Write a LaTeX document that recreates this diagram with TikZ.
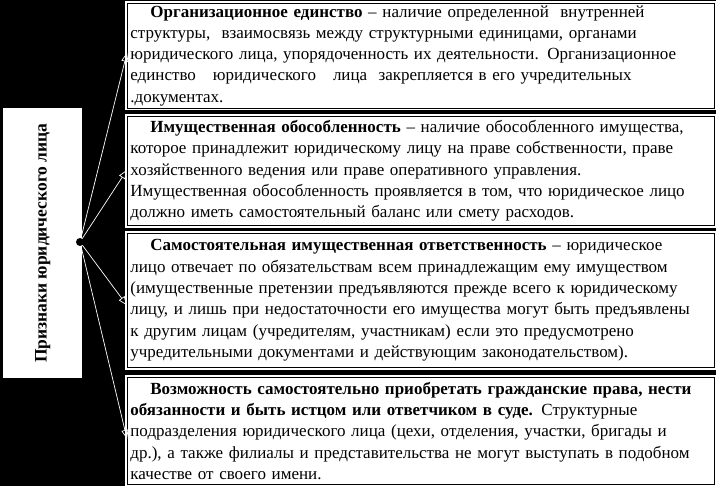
\documentclass[tikz,border=0pt]{standalone}
\usepackage{fontspec}
\setmainfont{Liberation Serif}
\usetikzlibrary{arrows.meta}
\tikzset{
  framebox/.style={draw=black, line width=0.8pt, fill=white,
    preaction={draw=white, line width=4.5pt},
    inner xsep=3pt, inner ysep=2pt, align=left, anchor=north west,
    font=\fontsize{17}{21.3}\selectfont},
  plainbox/.style={fill=white, inner sep=0pt, anchor=north west},
  link/.style={draw=white, line width=0.7pt,
    -{Triangle[open, length=9pt, width=7pt, line width=0.7pt]}},
}
\begin{document}
\begin{tikzpicture}[x=1pt,y=-1pt]
\useasboundingbox (0,0) rectangle (716,486);
\fill[black] (0,0) rectangle (716,486);
\node[plainbox, minimum width=79pt, minimum height=270pt] (main) at (3,108) {};
\node[rotate=90, font=\fontsize{17.5}{20}\selectfont\bfseries] (mainlabel) at (main.center) {Признаки юридического лица};
\node[framebox, text width=581pt, minimum height=104pt] (b1) at (127,3) {%
\hspace*{20pt}\textbf{Организационное единство} – наличие определенной\ \ внутренней\\
структуры,\ \ взаимосвязь между структурными единицами, органами\\
юридического лица, упорядоченность их деятельности. Организационное\\
единство\quad юридического\quad лица\ \ закрепляется в его учредительных\\
.документах.};
\node[framebox, text width=581pt, minimum height=109pt] (b2) at (127,116) {%
\hspace*{20pt}\textbf{Имущественная обособленность} – наличие обособленного имущества,\\
которое принадлежит юридическому лицу на праве собственности, праве\\
хозяйственного ведения или праве оперативного управления.\\
Имущественная обособленность проявляется в том, что юридическое лицо\\
должно иметь самостоятельный баланс или смету расходов.};
\node[framebox, text width=581pt, minimum height=134pt] (b3) at (127,233) {%
\hspace*{20pt}\textbf{Самостоятельная имущественная ответственность} – юридическое\\
лицо отвечает по обязательствам всем принадлежащим ему имуществом\\
(имущественные претензии предъявляются прежде всего к юридическому\\
лицу, и лишь при недостаточности его имущества могут быть предъявлены\\
к другим лицам (учредителям, участникам) если это предусмотрено\\
учредительными документами и действующим законодательством).};
\node[framebox, text width=581pt, minimum height=107pt] (b4) at (127,377) {%
\hspace*{20pt}\textbf{Возможность самостоятельно приобретать гражданские права, нести}\\
\textbf{обязанности и быть истцом или ответчиком в суде.} Структурные\\
подразделения юридического лица (цехи, отделения, участки, бригады и\\
др.), а также филиалы и представительства не могут выступать в подобном\\
качестве от своего имени.};
\coordinate (hub) at (80,242);
\draw[link] (hub) -- ([yshift=3pt]b1.west);
\draw[link] (hub) -- ([yshift=1pt]b2.west);
\draw[link] (hub) -- ([yshift=-5pt]b3.west);
\draw[link] (hub) -- ([yshift=-8pt]b4.west);
\fill[black] (hub) circle (4pt);
\end{tikzpicture}
\end{document}
